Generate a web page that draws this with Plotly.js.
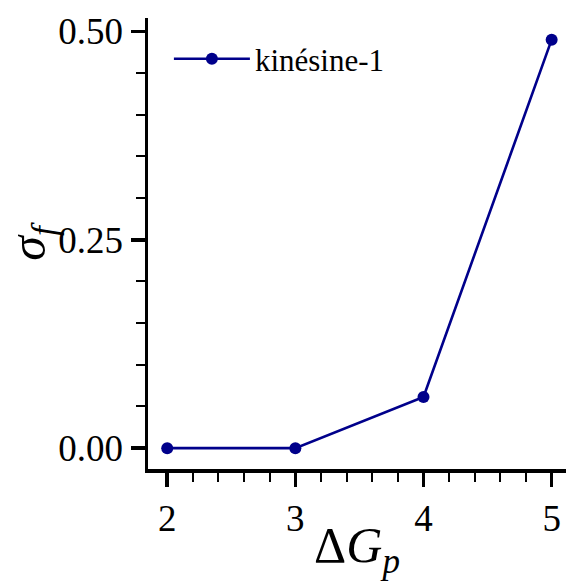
<!DOCTYPE html>
<html>
<head>
<meta charset="utf-8">
<script src="https://cdn.plot.ly/plotly-3.0.1.min.js"></script>
<style>html,body{margin:0;padding:0;background:#fff;}#chart{width:566px;height:581px;}</style>
</head>
<body>
<div id="chart"></div>
<script>
const deltaGp = [2, 3, 4, 5];
const sigmaF = [0.0, 0.0, 0.0615, 0.490];
const seriesName = 'kinésine-1';
const xTickVals = [2, 3, 4, 5];
const yTickVals = [0.0, 0.25, 0.5];

const color = '#00008B';
const trace = {
  x: deltaGp, y: sigmaF, name: seriesName,
  type: 'scatter', mode: 'lines+markers',
  line: {color: color, width: 2.6},
  marker: {color: color, size: 12}
};
const serif = 'Liberation Serif, Times New Roman, serif';
const layout = {
  width: 566, height: 581,
  margin: {l: 148, r: 0, t: 18, b: 112},
  paper_bgcolor: '#fff', plot_bgcolor: '#fff',
  font: {family: serif, color: '#000'},
  showlegend: true,
  legend: {x: 0.05, y: 0.909, xanchor: 'left', yanchor: 'middle', itemwidth: 76,
           font: {size: 31, family: serif}, bgcolor: 'rgba(0,0,0,0)'},
  xaxis: {
    range: [1.85, 5.112], showgrid: false, zeroline: false,
    showline: true, linewidth: 3.5, linecolor: '#000',
    tickvals: xTickVals, ticks: 'outside', ticklen: 14, tickwidth: 3.5, tickcolor: '#000',
    tickfont: {size: 37, family: serif},
    minor: {dtick: 0.2, ticks: 'outside', ticklen: 9, tickwidth: 2, tickcolor: '#000', showgrid: false},
    title: {text: 'Δ<i>G</i><sub><i>p</i></sub>', font: {size: 50, family: serif}, standoff: 8}
  },
  yaxis: {
    range: [-0.025, 0.516], showgrid: false, zeroline: false,
    showline: true, linewidth: 3.5, linecolor: '#000',
    tickvals: yTickVals, tickformat: '.2f', ticks: 'outside', ticklen: 14, tickwidth: 3.5, tickcolor: '#000',
    tickfont: {size: 37, family: serif},
    minor: {dtick: 0.05, ticks: 'outside', ticklen: 9, tickwidth: 2, tickcolor: '#000', showgrid: false},
    title: {text: '<i>σ</i><sub><i>f</i></sub>', font: {size: 50, family: serif}, standoff: 6}
  }
};
Plotly.newPlot('chart', [trace], layout, {displayModeBar: false, staticPlot: true});
</script>
</body>
</html>
